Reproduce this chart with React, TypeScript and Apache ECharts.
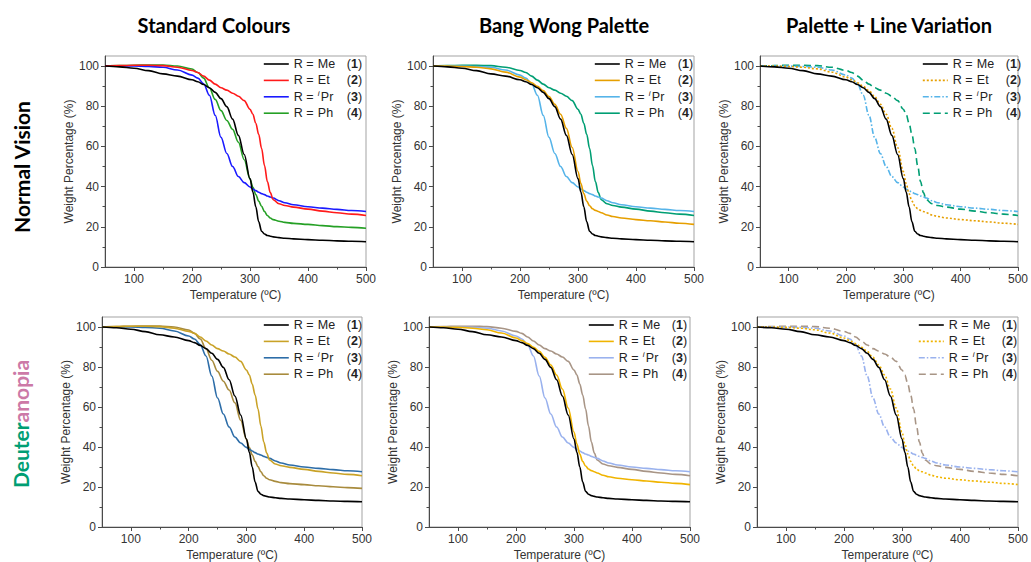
import React, { useEffect, useRef } from "react";
import * as echarts from "echarts";

// ---------- data ----------
const TEMPS = [50, 75, 100, 125, 150, 175, 200, 210, 220, 230, 240, 250, 260, 270, 280, 290, 300, 305, 310, 315, 320, 325, 330, 335, 340, 350, 360, 375, 400, 425, 450, 475, 500];

// R = Me (black, identical in every panel)
const ME = [100, 99.6, 98.9, 97.7, 96.1, 95.0, 93.2, 92.2, 90.8, 89.2, 86.9, 83.8, 79.8, 73.6, 65.5, 56.0, 44.0, 37.3, 30.0, 22.5, 17.8, 16.4, 15.7, 15.3, 15.0, 14.6, 14.3, 14.0, 13.6, 13.3, 13.0, 12.8, 12.6];
// R = iPr (identical in every panel)
const IPR = [100, 100, 100, 99.8, 99.4, 98.0, 95.5, 94.0, 91.2, 85.5, 75.5, 64.5, 56.5, 50.0, 45.0, 42.0, 39.8, 38.8, 38.0, 37.2, 36.5, 36.0, 35.3, 34.8, 34.3, 33.0, 32.0, 31.0, 30.0, 29.3, 28.7, 28.1, 27.6];
// late-shoulder curve: "Et" in Standard Colours, "Ph" in the palette columns
const LATE_SHOULDER = [100, 100.2, 100.4, 100.4, 100.2, 99.4, 97.8, 96.8, 95.0, 93.0, 91.0, 89.2, 88.0, 86.5, 85.0, 82.8, 78.5, 76.0, 71.5, 66.0, 59.0, 50.5, 42.5, 37.0, 33.5, 31.5, 30.6, 29.8, 28.8, 27.8, 27.0, 26.3, 25.6];
// "Ph" in Standard Colours
const STD_PH = [100, 100.2, 100.4, 100.5, 100.5, 100.0, 98.5, 96.8, 94.0, 89.1, 83.4, 77.8, 72.9, 68.5, 62.1, 53.4, 43.8, 39.7, 36.1, 32.8, 30.2, 27.6, 25.6, 24.4, 23.6, 22.8, 22.2, 21.7, 21.2, 20.6, 20.1, 19.7, 19.3];
// "Et" in the palette columns
const PAL_ET = [100, 100, 99.8, 99.4, 98.6, 97.0, 94.5, 93.2, 91.7, 89.9, 87.8, 84.8, 81.0, 76.0, 69.0, 59.5, 47.5, 41.5, 36.5, 32.8, 30.5, 29.0, 28.2, 27.6, 27.0, 25.9, 25.1, 24.4, 23.6, 23.0, 22.4, 21.8, 21.2];

const SERIES_KEYS = ["Me", "Et", "iPr", "Ph"];
const COMPOUND_NUMBERS = ["1", "2", "3", "4"];
const STANDARD_DATA = [ME, LATE_SHOULDER, IPR, STD_PH];
const PALETTE_DATA = [ME, PAL_ET, IPR, LATE_SHOULDER];

const X_TICKS = [100, 200, 300, 400, 500];
const X_MINOR = [150, 250, 350, 450];
const Y_TICKS = [0, 20, 40, 60, 80, 100];
const Y_MINOR = [10, 30, 50, 70, 90];

const COLUMN_TITLES = ["Standard Colours", "Bang Wong Palette", "Palette + Line Variation"];
const X_NAME = "Temperature (\u00BAC)";
const Y_NAME = "Weight Percentage (%)";

// ---------- styles ----------
const STANDARD = ["#000000", "#ff1a1a", "#1a1aff", "#25a025"];
const WONG = ["#000000", "#E69F00", "#56B4E9", "#009E73"];
const DEUT_STANDARD = ["#000000", "#c9a227", "#2d6da8", "#a88b3d"];
const DEUT_WONG = ["#000000", "#f0b400", "#9ab2ee", "#a89586"];
const SOLID = ["solid", "solid", "solid", "solid"];
const VARIED: any[] = ["solid", [2, 2], [6, 2, 1.5, 2], [7, 4]];

const PANELS = [
  { left: 105, top: 56, width: 261, legendLeft: 263, colors: STANDARD, data: STANDARD_DATA, dash: SOLID },
  { left: 433, top: 56, width: 261, legendLeft: 594, colors: WONG, data: PALETTE_DATA, dash: SOLID },
  { left: 760, top: 56, width: 261, legendLeft: 922, colors: WONG, data: PALETTE_DATA, dash: VARIED },
  { left: 102, top: 317, width: 260, legendLeft: 263, colors: DEUT_STANDARD, data: STANDARD_DATA, dash: SOLID },
  { left: 429, top: 317, width: 261, legendLeft: 588, colors: DEUT_WONG, data: PALETTE_DATA, dash: SOLID },
  { left: 757, top: 317, width: 261, legendLeft: 918, colors: DEUT_WONG, data: PALETTE_DATA, dash: VARIED },
];
const PLOT_H = 211;

const FONT = "'Liberation Sans', Arial, sans-serif";
const TITLE_FONT = "Lato, 'Open Sans', sans-serif";
const AXIS_COLOR = "#4a4a4a";
const TEXT_COLOR = "#333333";

function buildOption() {
  const grid: any[] = [];
  const xAxis: any[] = [];
  const yAxis: any[] = [];
  const series: any[] = [];
  const legend: any[] = [];

  PANELS.forEach((p, i) => {
    grid.push({
      left: p.left,
      top: p.top,
      width: p.width,
      height: PLOT_H,
      show: true,
      borderColor: "#a3a3a3",
      borderWidth: 1,
      backgroundColor: "transparent",
    });
    xAxis.push({
      type: "value",
      gridIndex: i,
      min: 50,
      max: 500,
      position: "bottom",
      axisLine: { show: true, onZero: false, lineStyle: { color: AXIS_COLOR, width: 1 } },
      axisTick: { show: true, length: 4, customValues: X_TICKS, lineStyle: { color: AXIS_COLOR } },
      axisLabel: { customValues: X_TICKS, color: TEXT_COLOR, fontSize: 12, fontFamily: FONT, margin: 6 },
      splitLine: { show: false },
      name: X_NAME,
      nameLocation: "middle",
      nameGap: 22,
      nameTextStyle: { color: TEXT_COLOR, fontSize: 12, fontFamily: FONT },
    });
    xAxis.push({
      type: "value",
      gridIndex: i,
      min: 50,
      max: 500,
      position: "bottom",
      axisLine: { show: false, onZero: false },
      axisTick: { show: true, length: 2.5, customValues: X_MINOR, lineStyle: { color: AXIS_COLOR } },
      axisLabel: { show: false },
      splitLine: { show: false },
    });
    yAxis.push({
      type: "value",
      gridIndex: i,
      min: 0,
      max: 105,
      position: "left",
      axisLine: { show: true, onZero: false, lineStyle: { color: AXIS_COLOR, width: 1 } },
      axisTick: { show: true, length: 4, customValues: Y_TICKS, lineStyle: { color: AXIS_COLOR } },
      axisLabel: { customValues: Y_TICKS, color: TEXT_COLOR, fontSize: 12, fontFamily: FONT, margin: 6 },
      splitLine: { show: false },
      name: Y_NAME,
      nameLocation: "middle",
      nameGap: 27,
      nameTextStyle: { color: TEXT_COLOR, fontSize: 12, fontFamily: FONT },
    });
    yAxis.push({
      type: "value",
      gridIndex: i,
      min: 0,
      max: 105,
      position: "left",
      axisLine: { show: false, onZero: false },
      axisTick: { show: true, length: 2.5, customValues: Y_MINOR, lineStyle: { color: AXIS_COLOR } },
      axisLabel: { show: false },
      splitLine: { show: false },
    });

    const names: string[] = [];
    SERIES_KEYS.forEach((key, k) => {
      const name = `${key}#${i}`;
      names.push(name);
      const values = p.data[k];
      series.push({
        name,
        type: "line",
        xAxisIndex: i * 2,
        yAxisIndex: i * 2,
        data: TEMPS.map((t, j) => [t, values[j]]),
        showSymbol: false,
        symbol: "none",
        smooth: 0.35,
        smoothMonotone: "x",
        color: p.colors[k],
        lineStyle: { color: p.colors[k], width: 1.6, type: p.dash[k] },
        itemStyle: { color: p.colors[k] },
        z: 10 - k,
      });
    });

    legend.push({
      data: names,
      orient: "vertical",
      left: p.legendLeft,
      top: p.top + 1,
      padding: 0,
      itemWidth: 25,
      itemHeight: 14,
      itemGap: 2.4,
      selectedMode: false,
      itemStyle: { opacity: 0, color: "rgba(0,0,0,0)", borderWidth: 0, borderColor: "rgba(0,0,0,0)" },
      lineStyle: { width: 1.6 },
      textStyle: {
        fontFamily: FONT,
        fontSize: 12.5,
        color: "#222",
        lineHeight: 14,
        rich: {
          a: { fontFamily: FONT, fontSize: 12.5, color: "#222", width: 24, lineHeight: 14 },
          b: { fontFamily: FONT, fontSize: 12.5, color: "#222", width: 29, lineHeight: 14 },
          b2: { fontFamily: FONT, fontSize: 12.5, color: "#222", width: 26, lineHeight: 14 },
          i: { fontFamily: FONT, fontSize: 8, fontStyle: "italic", color: "#222", width: 3, lineHeight: 9, verticalAlign: "top" },
          p: { fontFamily: FONT, fontSize: 12.5, color: "#222", lineHeight: 14 },
          k: { fontFamily: FONT, fontSize: 12.5, fontWeight: "bold", color: "#222", lineHeight: 14 },
        },
      },
      formatter: (name: string) => {
        const key = name.split("#")[0];
        const idx = SERIES_KEYS.indexOf(key);
        const num = COMPOUND_NUMBERS[idx];
        const label = key === "iPr" ? "{a|R = }{i|i}{b2|Pr}" : `{a|R = }{b|${key}}`;
        return `${label}{p|(}{k|${num}}{p|)}`;
      },
    });
  });

  const graphic: any[] = [];
  const titleX = [214, 564, 889];
  COLUMN_TITLES.forEach((t, c) => {
    graphic.push({
      type: "text",
      x: titleX[c],
      y: 25,
      style: {
        text: t,
        align: "center",
        verticalAlign: "middle",
        font: `bold 20px ${TITLE_FONT}`,
        fill: "#000",
      },
    });
  });
  graphic.push({
    type: "text",
    x: 21,
    y: 167,
    rotation: Math.PI / 2,
    style: {
      text: "Normal Vision",
      align: "center",
      verticalAlign: "middle",
      font: `bold 21px ${TITLE_FONT}`,
      fill: "#000",
    },
  });
  graphic.push({
    type: "text",
    x: 20,
    y: 424,
    rotation: Math.PI / 2,
    style: {
      text: "{g|Deuter}{p|anopia}",
      align: "center",
      verticalAlign: "middle",
      font: `bold 21px ${TITLE_FONT}`,
      rich: {
        g: { fill: "#009E73", font: `bold 21px ${TITLE_FONT}` },
        p: { fill: "#CC79A7", font: `bold 21px ${TITLE_FONT}` },
      },
    },
  });

  return {
    animation: false,
    backgroundColor: "#ffffff",
    grid,
    xAxis,
    yAxis,
    series,
    legend,
    graphic,
  };
}

export default function App() {
  const ref = useRef<HTMLDivElement>(null);
  useEffect(() => {
    if (!ref.current) return;
    const chart = echarts.init(ref.current, undefined, { renderer: "svg" });
    chart.setOption(buildOption() as any);
    return () => chart.dispose();
  }, []);
  return (
    <div
      ref={ref}
      style={{ position: "absolute", left: 0, top: 0, width: 1031, height: 562, background: "#fff" }}
    />
  );
}
